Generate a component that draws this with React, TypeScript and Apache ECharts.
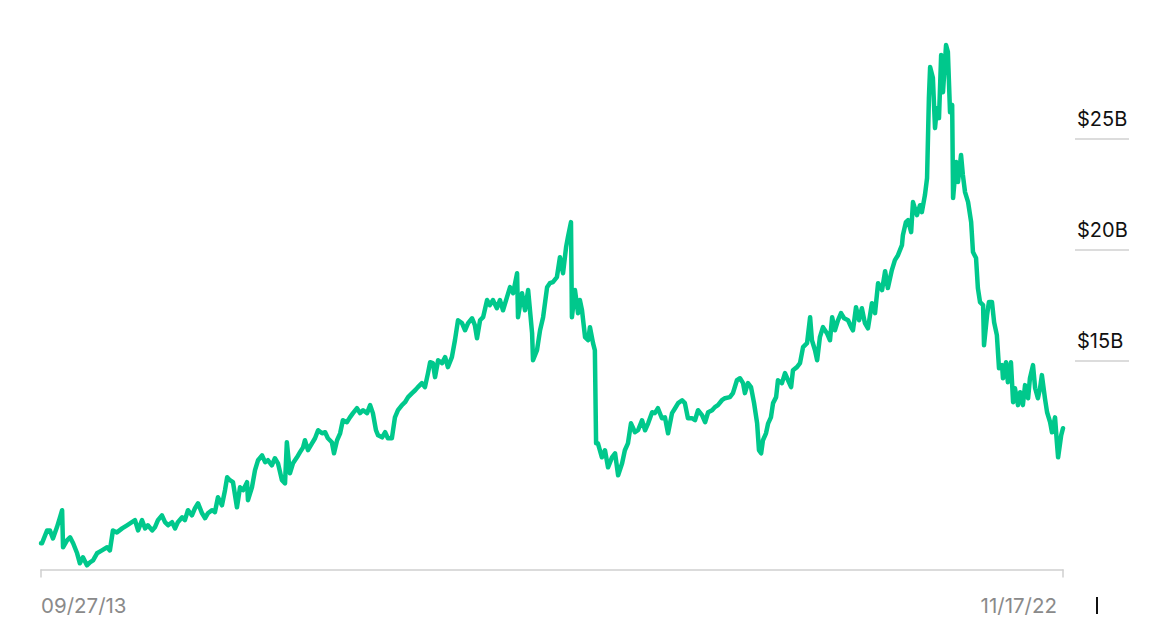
import React, { useEffect, useRef } from 'react';
import * as echarts from 'echarts';

const START_DATE = '2013-09-27';
const END_DATE = '2022-11-17';

// days after START_DATE of each observation
const dayOffsets = [
  0, 3, 20, 29, 39, 52, 62, 69, 72, 85, 95, 105, 118, 127, 137, 150, 160, 170, 183, 199,
  216, 225, 235, 248, 265, 281, 297, 307, 317, 330, 340, 349, 363, 372, 382, 395, 405, 415, 428, 438,
  447, 461, 470, 480, 493, 503, 513, 526, 536, 545, 559,
  568, 578, 591, 601, 608, 617, 627, 640, 650, 660, 673, 676, 689, 699, 709, 722, 732, 741, 754, 764,
  774, 787, 797, 803, 813, 823, 836, 846, 856, 862, 872, 885, 895, 905, 918, 928, 937, 950, 957, 967,
  977, 986, 999, 1009, 1019, 1032, 1042, 1052, 1065, 1075, 1084, 1094, 1101, 1114, 1124, 1133, 1146,
  1156, 1166, 1179, 1189, 1199, 1212, 1222, 1231, 1244, 1254, 1264, 1271, 1280, 1287, 1297, 1310, 1320,
  1329, 1342, 1352, 1362, 1375, 1385, 1395, 1408, 1417, 1424, 1434, 1444, 1457, 1466, 1476, 1489, 1499,
  1509, 1522, 1532, 1542, 1555, 1558, 1571, 1581, 1591, 1604, 1607, 1620, 1630, 1640, 1653, 1662, 1672,
  1685, 1695, 1705, 1715, 1721, 1731, 1734, 1744, 1754, 1760, 1767, 1777, 1787, 1793, 1803, 1809, 1813,
  1819, 1832, 1842, 1852, 1865, 1875, 1885, 1898, 1907, 1917, 1927, 1940, 1950, 1963, 1973, 1983, 1996,
  2005, 2015, 2028, 2038, 2048, 2061, 2071, 2081, 2094, 2103, 2113, 2126, 2136, 2146, 2159, 2169, 2179,
  2192, 2201, 2211, 2224, 2234,
  2250, 2260, 2273, 2283, 2293, 2299, 2309, 2319, 2329, 2339, 2345, 2352, 2358, 2368, 2375, 2384, 2391,
  2401, 2407, 2420, 2430, 2440, 2450, 2456, 2469, 2479, 2489, 2502, 2512, 2518, 2528, 2535, 2544, 2554,
  2567, 2577, 2584, 2593, 2603, 2613, 2623, 2636, 2646, 2652, 2662, 2672, 2681, 2691, 2701, 2714, 2724,
  2734, 2747, 2757, 2766, 2779, 2789,
  2799, 2812, 2815, 2825, 2832, 2842, 2848, 2861, 2871, 2877, 2887, 2894, 2900, 2904, 2913, 2920, 2926,
  2933, 2940, 2946, 2956, 2962, 2969, 2976, 2979, 2989, 2995, 3005, 3011, 3018, 3028, 3038, 3044, 3054,
  3060, 3067, 3077, 3080, 3090, 3096, 3106, 3113, 3122, 3129, 3139, 3142, 3152, 3158, 3168, 3175, 3181,
  3191, 3198, 3207, 3214, 3224, 3230, 3240, 3247, 3256, 3263, 3269, 3279, 3286, 3296, 3302, 3312, 3318,
  3322, 3332, 3338,
];

// value in $ billions
const valuesB = [
  6.78, 6.78, 7.36, 7.36, 7.0, 7.5, 7.95, 8.27, 6.6, 6.91, 7.05, 6.78, 6.33, 5.88, 6.15, 5.79, 5.92, 6.01, 6.33, 6.46,
  6.6, 6.46, 7.36, 7.27, 7.45, 7.59, 7.73, 7.82, 7.36, 7.82, 7.45, 7.59, 7.36, 7.5, 7.82, 8.04, 7.73, 7.59, 7.73, 7.45,
  7.73, 7.95, 7.82, 8.27, 8.04, 8.36, 8.58, 8.13, 7.91, 8.13, 8.27,
  8.18, 8.85, 8.49, 9.17, 9.75, 9.62, 9.53, 8.4, 9.3, 9.17, 9.53, 8.72, 9.3, 10.07, 10.52, 10.74, 10.43, 10.52, 10.29, 10.61,
  10.38, 9.62, 9.48, 11.33, 9.93, 10.38, 10.65, 10.88, 11.1, 11.42, 10.97, 11.28, 11.51, 11.87, 11.73, 11.78, 11.51, 11.33, 10.83, 11.42,
  11.73, 12.32, 12.23, 12.45, 12.64, 12.86, 12.64, 12.77, 12.64, 13.0, 12.64, 11.87, 11.64, 11.55, 11.78, 11.51, 11.51,
  12.45, 12.77, 13.0, 13.13, 13.36, 13.54, 13.67, 13.81, 13.99, 13.81, 14.44, 14.93, 14.89, 14.26, 15.02, 14.89, 15.16,
  14.71, 15.16, 15.92, 16.82, 16.69, 16.37, 16.69, 16.91, 16.6, 16.01, 16.82, 16.96, 17.73, 17.5, 17.73, 17.36, 17.73,
  17.27, 17.86, 18.31, 18.04, 18.94, 16.96, 18.04, 17.27, 18.18, 16.24, 15.02, 15.47, 16.37, 16.96, 18.31, 18.49, 18.54,
  18.76, 19.66, 18.94, 20.11, 20.56, 21.24, 16.96, 18.18, 17.14, 17.73, 17.27, 16.06, 15.92, 16.51, 15.79, 15.47, 11.28,
  11.28, 10.65, 10.97, 10.2, 10.65, 10.83, 9.84, 10.38, 10.97, 11.28, 12.18, 11.78, 11.87, 12.32, 11.87, 12.18, 12.68,
  12.64, 12.86, 12.41, 12.45, 11.73, 12.64, 12.86, 13.09, 13.22, 13.09, 12.41, 12.41, 12.32, 12.77, 12.55, 12.23, 12.68,
  12.77, 12.91, 13.0, 13.22, 13.31,
  13.36, 13.54, 14.12, 14.21, 13.99, 13.54, 13.99, 13.81, 13.09, 12.18, 10.97, 10.83, 11.42, 11.73, 12.18, 12.45, 13.09,
  13.36, 14.12, 13.99, 14.44, 14.12, 13.81, 14.57, 14.71, 14.89, 15.61, 15.79, 16.96, 15.92, 15.47, 15.02, 16.06, 16.51,
  16.24, 15.92, 16.96, 16.37, 16.82, 17.14, 16.91, 16.82, 16.51, 16.37, 17.41, 16.82, 17.36, 16.69, 16.46, 17.59, 17.14,
  18.49, 18.18, 19.03, 18.27, 19.08, 19.53,
  19.75, 20.2, 20.65, 21.24, 21.33, 20.79, 22.14, 21.55, 22.0, 21.69, 22.45, 23.22, 26.82, 28.22, 27.73, 25.47, 26.37,
  25.92, 28.76, 27.09, 29.21, 28.9, 26.19, 26.51, 22.32, 23.94, 23.04, 24.26, 23.36, 22.59, 22.14, 21.24, 19.89, 19.62,
  18.27, 17.64, 17.5, 15.7, 17.05, 17.64, 17.64, 16.73, 16.15, 14.66, 14.8, 14.21, 14.93, 14.03, 14.93, 13.13, 13.76,
  13.0, 13.58, 13.0, 13.9, 13.31, 14.21, 14.8, 13.76, 13.31, 13.76, 14.35, 13.31, 12.68, 12.23, 11.78, 12.45, 11.33,
  10.65, 11.64, 11.96,
];

const yTicks = [15, 20, 25];
const Y_MIN = 5.6;
const Y_MAX = 30;

const LINE_COLOR = '#00c88c';
const FONT = 'Inter, "Liberation Sans", Arial, sans-serif';

const DAY_MS = 86400000;
const startMs = Date.parse(START_DATE);
const totalDays = Math.round((Date.parse(END_DATE) - startMs) / DAY_MS);

function fmtDay(days: number): string {
  const d = new Date(startMs + Math.round(days) * DAY_MS);
  const mm = String(d.getUTCMonth() + 1).padStart(2, '0');
  const dd = String(d.getUTCDate()).padStart(2, '0');
  const yy = String(d.getUTCFullYear() % 100).padStart(2, '0');
  return `${mm}/${dd}/${yy}`;
}

export default function App() {
  const ref = useRef<HTMLDivElement>(null);

  useEffect(() => {
    if (!ref.current) return;
    const chart = echarts.init(ref.current, undefined, { renderer: 'svg' });

    const gridTop = 27.5;
    const gridBottomY = 569.5;
    const pxPerUnit = (gridBottomY - gridTop) / (Y_MAX - Y_MIN);
    const tMax = yTicks[yTicks.length - 1];
    const tMin = yTicks[0];

    const data = dayOffsets.map((d, i) => [d, valuesB[i]]);

    chart.setOption({
      animation: false,
      backgroundColor: '#ffffff',
      grid: [
        { left: 41, width: 1022, top: gridTop, height: gridBottomY - gridTop, containLabel: false },
        {
          left: 1075,
          width: 54,
          top: gridTop + (Y_MAX - tMax) * pxPerUnit,
          height: (tMax - tMin) * pxPerUnit,
          containLabel: false,
        },
      ],
      xAxis: [
        {
          type: 'value',
          gridIndex: 0,
          min: 0,
          max: totalDays,
          interval: totalDays,
          splitLine: { show: false },
          axisLine: { show: true, lineStyle: { color: '#cfcfcf', width: 1.5 } },
          axisTick: { show: true, length: 8, lineStyle: { color: '#cfcfcf', width: 1.5 } },
          axisLabel: {
            show: true,
            margin: 25,
            color: '#8a8a8a',
            fontSize: 20.5,
            fontFamily: FONT,
            formatter: (v: number) => fmtDay(v),
            alignMinLabel: 'left',
            alignMaxLabel: 'right',
            padding: [0, 6, 0, 0],
          },
        },
        { type: 'value', gridIndex: 1, show: false, min: 0, max: 1 },
      ],
      yAxis: [
        { type: 'value', gridIndex: 0, min: Y_MIN, max: Y_MAX, show: false },
        {
          type: 'value',
          gridIndex: 1,
          min: tMin,
          max: tMax,
          interval: yTicks[1] - yTicks[0],
          position: 'left',
          axisLine: { show: false },
          axisTick: { show: false },
          splitLine: { show: true, lineStyle: { color: '#d0d0d0', width: 1.5 } },
          axisLabel: {
            inside: true,
            margin: 2,
            align: 'left',
            verticalAlign: 'bottom',
            padding: [0, 0, 10, 0],
            color: '#111111',
            fontSize: 20,
            fontFamily: FONT,
            formatter: (v: number) => `$${v}B`,
          },
        },
      ],
      series: [
        {
          type: 'line',
          xAxisIndex: 0,
          yAxisIndex: 0,
          data,
          showSymbol: false,
          clip: false,
          lineStyle: { color: LINE_COLOR, width: 4.5, join: 'round', cap: 'round' },
          emphasis: { disabled: true },
        },
      ],
      graphic: [
        { type: 'rect', shape: { x: 1096, y: 597, width: 2, height: 17 }, style: { fill: '#111111' }, silent: true },
      ],
    });

    return () => chart.dispose();
  }, []);

  return (
    <div
      ref={ref}
      style={{ position: 'absolute', left: 0, top: 0, width: 1149, height: 644, background: '#fff' }}
    />
  );
}
